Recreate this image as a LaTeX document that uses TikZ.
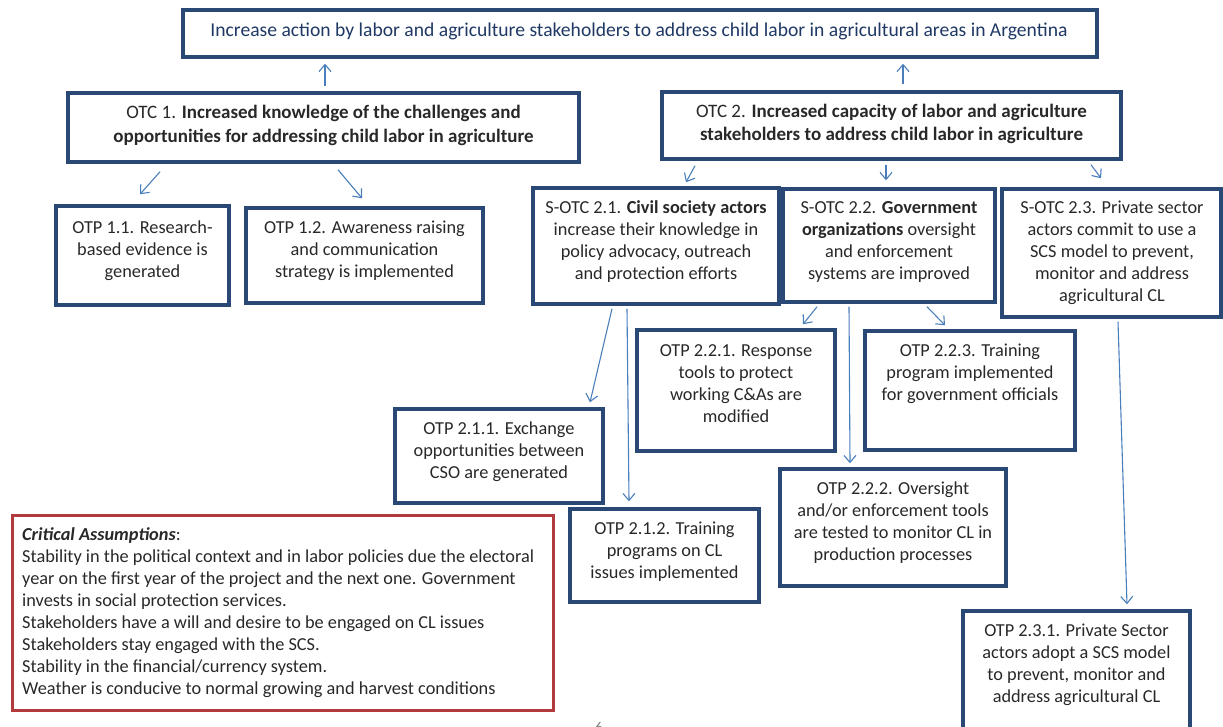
\documentclass[tikz,border=0pt]{standalone}
\usepackage{fontspec}
\setmainfont{Carlito}
\usetikzlibrary{arrows.meta}
\definecolor{boxblue}{RGB}{42,72,118}
\definecolor{arrblue}{RGB}{74,126,187}
\definecolor{txtgray}{RGB}{40,40,40}
\definecolor{navy}{RGB}{31,56,100}
\definecolor{critred}{RGB}{178,58,62}
\tikzset{
  box/.style={draw=boxblue, line width=3.5pt, inner sep=0pt, rectangle},
  critbox/.style={draw=critred, line width=3pt, inner sep=0pt, rectangle},
  txt/.style={inner sep=0pt, align=center, text=txtgray, font=\fontsize{18.3}{22}\selectfont},
  otctxt/.style={txt, font=\fontsize{19}{23.5}\selectfont},
  arr/.style={draw=arrblue, line width=1.1pt, -{Straight Barb[length=7pt,width=12pt]}}
}
\begin{document}
\begin{tikzpicture}[x=1pt,y=-1pt]
\useasboundingbox (0,0) rectangle (1223,727);
% boxes
\node[box, minimum width=914pt, minimum height=47pt] (top) at (640,33.5) {};
\node[box, minimum width=511pt, minimum height=69pt] (otc1) at (323.5,127.5) {};
\node[box, minimum width=459pt, minimum height=67pt] (otc2) at (891.5,125.5) {};
\node[box, minimum width=173pt, minimum height=99pt] (otp11) at (142.5,255.5) {};
\node[box, minimum width=237pt, minimum height=95pt] (otp12) at (364.5,255.5) {};
\node[box, minimum width=246pt, minimum height=116pt] (sotc21) at (656,246) {};
\node[box, minimum width=212pt, minimum height=113pt] (sotc22) at (889,245.5) {};
\node[box, minimum width=219pt, minimum height=128pt] (sotc23) at (1111.5,253) {};
\node[box, minimum width=198pt, minimum height=121pt] (otp221) at (736,390.5) {};
\node[box, minimum width=210pt, minimum height=119pt] (otp223) at (970,390.5) {};
\node[box, minimum width=208pt, minimum height=94pt] (otp211) at (499,456) {};
\node[box, minimum width=189pt, minimum height=93pt] (otp212) at (664.5,555.5) {};
\node[box, minimum width=226pt, minimum height=117pt] (otp222) at (893,527.5) {};
\node[box, minimum width=227pt, minimum height=124pt] (otp231) at (1076.5,673) {};
\node[critbox, minimum width=541pt, minimum height=195pt] (crit) at (282.5,612.5) {};
% texts
\node[txt, text=navy, font=\fontsize{19.6}{22}\selectfont] (ttop) at (639,31) {Increase action by labor and agriculture stakeholders to address child labor in agricultural areas in Argentina};
\node[otctxt] (totc1) at (323.5,125.5) {OTC 1. \textbf{Increased knowledge of the challenges and}\\\textbf{opportunities for addressing child labor in agriculture}};
\node[otctxt] (totc2) at (891.5,124) {OTC 2. \textbf{Increased capacity of labor and agriculture}\\\textbf{stakeholders to address child labor in agriculture}};
\node[txt] (totp11) at (142.5,251) {OTP 1.1. Research-\\based evidence is\\generated};
\node[txt] (totp12) at (364.5,251) {OTP 1.2. Awareness raising\\and communication\\strategy is implemented};
\node[txt] (tsotc21) at (656,242) {S-OTC 2.1. \textbf{Civil society actors}\\increase their knowledge in\\policy advocacy, outreach\\and protection efforts};
\node[txt] (tsotc22) at (889,242) {S-OTC 2.2. \textbf{Government}\\\textbf{organizations} oversight\\and enforcement\\systems are improved};
\node[txt] (tsotc23) at (1112,253) {S-OTC 2.3. Private sector\\actors commit to use a\\SCS model to prevent,\\monitor and address\\agricultural CL};
\node[txt] (totp221) at (736,384) {OTP 2.2.1. Response\\tools to protect\\working C\&As are\\modified};
\node[txt] (totp223) at (970,374) {OTP 2.2.3. Training\\program implemented\\for government officials};
\node[txt] (totp211) at (499,452) {OTP 2.1.1. Exchange\\opportunities between\\CSO are generated};
\node[txt] (totp212) at (664.5,552) {OTP 2.1.2. Training\\programs on CL\\issues implemented};
\node[txt] (totp222) at (893,523) {OTP 2.2.2. Oversight\\and/or enforcement tools\\are tested to monitor CL in\\production processes};
\node[txt] (totp231) at (1076.5,665) {OTP 2.3.1. Private Sector\\actors adopt a SCS model\\to prevent, monitor and\\address agricultural CL};
\node[txt, align=left, anchor=west] (tcrit) at (22,612.5) {\textbf{\textit{Critical Assumptions}}:\\Stability in the political context and in labor policies due the electoral\\year on the first year of the project and the next one. Government\\invests in social protection services.\\Stakeholders have a will and desire to be engaged on CL issues\\Stakeholders stay engaged with the SCS.\\Stability in the financial/currency system.\\Weather is conducive to normal growing and harvest conditions};
\node[txt, font=\fontsize{15}{16}\selectfont, anchor=north, text=gray] (pagenum) at (599,722) {6};
% arrows
\draw[arr] ([shift={(1.5,-5)}]otc1.north) -- ([shift={(-315,5)}]top.south);
\draw[arr] ([shift={(11.5,-6)}]otc2.north) -- ([shift={(263,5)}]top.south);
\draw[arr] ([shift={(-163.5,8)}]otc1.south) -- ([shift={(-2.5,-10)}]otp11.north);
\draw[arr] ([shift={(14.5,6)}]otc1.south) -- ([shift={(-2.5,-8)}]otp12.north);
\draw[arr] ([shift={(-196.5,5)}]otc2.south) -- ([shift={(30,-4)}]sotc21.north);
\draw[arr] ([shift={(-5.5,4)}]otc2.south) -- ([shift={(-3,-7)}]sotc22.north);
\draw[arr] ([shift={(199.5,4)}]otc2.south) -- ([shift={(-10.5,-9)}]sotc23.north);
\draw[arr] ([shift={(-44,3)}]sotc21.south) -- ([shift={(91,-5)}]otp211.north);
\draw[arr] ([shift={(-29,3)}]sotc21.south) -- ([shift={(-35.5,-6)}]otp212.north);
\draw[arr] ([shift={(-72,3)}]sotc22.south) -- ([shift={(67,-4)}]otp221.north);
\draw[arr] ([shift={(-40,3)}]sotc22.south) -- ([shift={(-43,-4)}]otp222.north);
\draw[arr] ([shift={(38,3)}]sotc22.south) -- ([shift={(-25,-4)}]otp223.north);
\draw[arr] ([shift={(6.5,3)}]sotc23.south) -- ([shift={(50.5,-5)}]otp231.north);
\end{tikzpicture}
\end{document}
